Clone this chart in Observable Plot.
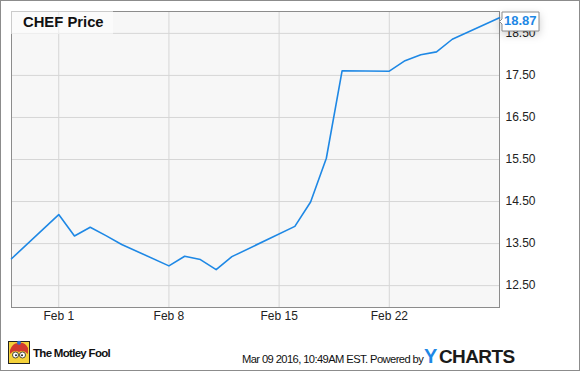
<!DOCTYPE html>
<html>
<head>
<meta charset="utf-8">
<script src="https://cdn.jsdelivr.net/npm/d3@7"></script>
<script src="https://cdn.jsdelivr.net/npm/@observablehq/plot@0.6"></script>
<style>
  html, body { margin: 0; padding: 0; background: #fff; }
  #wrap { position: relative; width: 578px; height: 369px; border: 1px solid #8c8c8c; overflow: hidden; font-family: "Liberation Sans", Arial, sans-serif; }
  #title { position: absolute; left: 10px; top: 10px; width: 102px; height: 23px; background: rgba(255,255,255,0.55); font-weight: bold; font-size: 14.8px; color: #111; line-height: 23px; padding-left: 12px; box-sizing: border-box; }
  #footer { position: absolute; left: 0; top: 325px; width: 578px; height: 44px; }
  .lasttip text { fill: #1e88e5; }
</style>
</head>
<body>
<div id="wrap">
  <div id="chart"></div>
  <div id="title">CHEF Price</div>
  <div id="footer">
    <svg width="578" height="44" style="position:absolute;left:0;top:0">
      <rect x="7.5" y="15.5" width="21" height="22" fill="#f4d13a" stroke="#222" stroke-width="1"/>
      <path d="M9 24 Q12 16 18 17 Q24 16 27 22 L27 28 Q22 23 18 26 Q13 23 9 28 Z" fill="#d23a2f"/>
      <circle cx="18" cy="16.8" r="2" fill="#2a6fd1"/>
      <circle cx="14.5" cy="29" r="3" fill="#fff" stroke="#222" stroke-width="0.8"/>
      <circle cx="21.5" cy="29" r="3" fill="#fff" stroke="#222" stroke-width="0.8"/>
      <circle cx="15" cy="29.3" r="1" fill="#222"/>
      <circle cx="21" cy="29.3" r="1" fill="#222"/>
      <text x="32" y="31" font-family="Liberation Sans, Arial, sans-serif" font-size="11.5" font-weight="bold" letter-spacing="-0.7" fill="#111">The Motley Fool</text>
      <text x="241" y="37" font-family="Liberation Sans, Arial, sans-serif" font-size="11.2" letter-spacing="-0.6" fill="#111">Mar 09 2016, 10:49AM EST. Powered by</text>
      <text x="423" y="37" font-family="Liberation Sans, Arial, sans-serif" font-size="20" font-weight="bold" fill="#1e88e5">Y</text>
      <text x="438" y="37" font-family="Liberation Sans, Arial, sans-serif" font-size="19" font-weight="bold" letter-spacing="-0.6" fill="#1a1a1a">CHARTS</text>
    </svg>
  </div>
</div>
<script>
const dates = ["2016-01-29","2016-02-01","2016-02-02","2016-02-03","2016-02-04","2016-02-05",
  "2016-02-08","2016-02-09","2016-02-10","2016-02-11","2016-02-12",
  "2016-02-16","2016-02-17","2016-02-18","2016-02-19",
  "2016-02-22","2016-02-23","2016-02-24","2016-02-25","2016-02-26","2016-02-29"];
const prices = [13.14, 14.19, 13.68, 13.89, 13.69, 13.48,
  12.97, 13.20, 13.12, 12.88, 13.19,
  13.91, 14.49, 15.53, 17.61,
  17.60, 17.85, 17.99, 18.06, 18.36, 18.87];
const xTicks = ["2016-02-01","2016-02-08","2016-02-15","2016-02-22"];
const yTicks = [12.5, 13.5, 14.5, 15.5, 16.5, 17.5, 18.5];

const parse = d3.utcParse("%Y-%m-%d");
const data = dates.map((d, i) => ({date: parse(d), price: prices[i]}));
const xt = xTicks.map(parse);
const last = data[data.length - 1];

const chart = Plot.plot({
  width: 578,
  height: 325,
  marginLeft: 10,
  marginRight: 80,
  marginTop: 10,
  marginBottom: 19,
  style: {fontFamily: "Liberation Sans, Arial, sans-serif", fontSize: "12px", color: "#222", background: "transparent"},
  x: {type: "utc", domain: [data[0].date, last.date]},
  y: {domain: [11.98, 19.02]},
  marks: [
    Plot.frame({fill: "#f7f7f7", stroke: "none"}),
    Plot.gridX(xt, {stroke: "#d6d6d6", strokeOpacity: 1, strokeWidth: 1}),
    Plot.gridY(yTicks, {stroke: "#d6d6d6", strokeOpacity: 1, strokeWidth: 1}),
    Plot.axisX(xt, {tickSize: 0, tickPadding: 4, tickFormat: d3.utcFormat("%b %-d"), label: null, fontSize: 12}),
    Plot.axisY(yTicks, {anchor: "right", tickSize: 0, tickPadding: 6, tickFormat: d3.format(".2f"), label: null, fontSize: 12}),
    Plot.frame({stroke: "#8c8c8c", strokeWidth: 1}),
    Plot.line(data, {x: "date", y: "price", stroke: "#1e88e5", strokeWidth: 1.6}),
    Plot.tip([last], {x: "date", y: "price", title: d => d.price.toFixed(2), anchor: "left", dy: 4,
      fill: "white", stroke: "#8c8c8c", fontSize: 13, fontWeight: "bold", textPadding: 2, pointerSize: 5,
      className: "lasttip"})
  ]
});
document.getElementById("chart").appendChild(chart);
</script>
</body>
</html>
